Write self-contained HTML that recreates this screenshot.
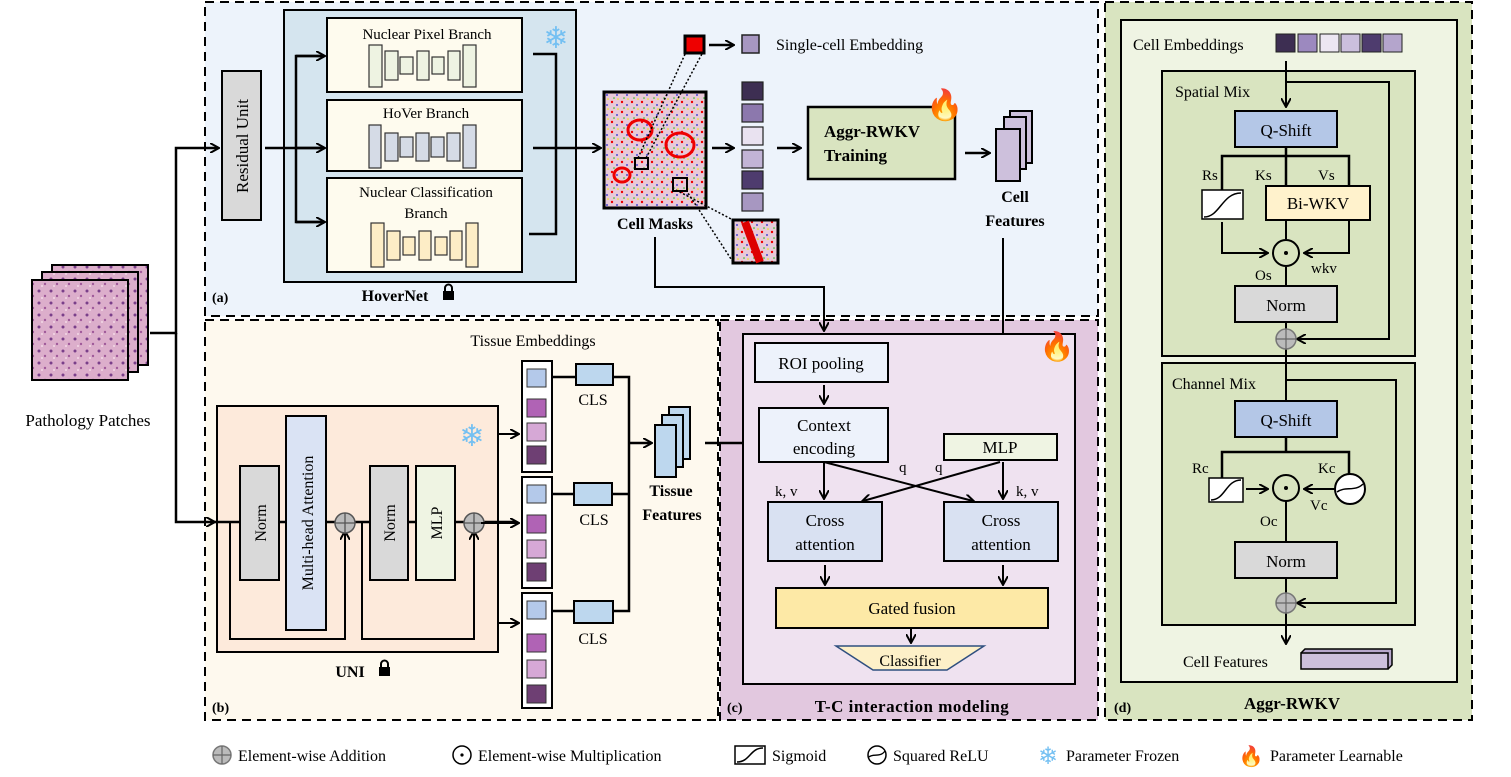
<!DOCTYPE html>
<html><head><meta charset="utf-8"><style>
body{margin:0;background:#fff;}
svg{display:block;font-family:"Liberation Serif",serif;}
</style></head><body>
<svg width="1511" height="777" viewBox="0 0 1511 777" xmlns="http://www.w3.org/2000/svg">
<defs>
<marker id="ar" markerWidth="10" markerHeight="10" refX="8" refY="5" orient="auto" markerUnits="userSpaceOnUse"><path d="M0,0 L9,5 L0,10" fill="none" stroke="#000" stroke-width="2"/></marker>
<pattern id="tis" width="12" height="12" patternUnits="userSpaceOnUse"><rect width="12" height="12" fill="#dcaecb"/><circle cx="3" cy="3" r="1.5" fill="#7a3f8a"/><circle cx="9" cy="8" r="1.2" fill="#a05a9a"/><circle cx="6" cy="10" r="1" fill="#f3d8e6"/></pattern>
<pattern id="msk" width="10" height="10" patternUnits="userSpaceOnUse"><rect width="10" height="10" fill="#e8c9d8"/><circle cx="2" cy="2" r="1.2" fill="#e00"/><circle cx="7" cy="5" r="0.9" fill="#22c"/><circle cx="4" cy="8" r="0.8" fill="#2b2"/><circle cx="8" cy="9" r="0.8" fill="#ee0"/></pattern>
</defs>

<rect x="205" y="2" width="893" height="314" fill="#edf3fb" stroke="#000" stroke-width="2" stroke-dasharray="9,6"/>
<rect x="205" y="320" width="513" height="400" fill="#fef9ee" stroke="#000" stroke-width="2" stroke-dasharray="9,6"/>
<rect x="720" y="320" width="378" height="400" fill="#e2c8df" stroke="#000" stroke-width="2" stroke-dasharray="9,6"/>
<rect x="1105" y="2" width="367" height="718" fill="#d9e4c0" stroke="#000" stroke-width="2" stroke-dasharray="9,6"/>

<rect x="52" y="265" width="96" height="100" fill="url(#tis)" stroke="#000" stroke-width="2"/>
<rect x="42" y="272" width="96" height="100" fill="url(#tis)" stroke="#000" stroke-width="2"/>
<rect x="32" y="280" width="96" height="100" fill="url(#tis)" stroke="#000" stroke-width="2"/>
<text x="88" y="426" font-size="17" text-anchor="middle">Pathology Patches</text>
<path d="M150,333 H176 V148 H218" fill="none" stroke="#000" stroke-width="2.5" marker-end="url(#ar)"/>
<path d="M176,333 V522 H214" fill="none" stroke="#000" stroke-width="2.5" marker-end="url(#ar)"/>

<rect x="222" y="71" width="39" height="149" fill="#d9d9d9" stroke="#000" stroke-width="2"/>
<text transform="translate(248,146) rotate(-90)" font-size="17" text-anchor="middle">Residual Unit</text>
<rect x="284" y="10" width="292" height="272" fill="#d5e5ef" stroke="#000" stroke-width="2"/>
<path d="M265,148 H322 M296,148 V56 H322 M296,148 V222 H322" fill="none" stroke="#000" stroke-width="2.5"/>
<path d="M296,56 H324" stroke="#000" stroke-width="2.5" marker-end="url(#ar)"/>
<path d="M296,148 H324" stroke="#000" stroke-width="2.5" marker-end="url(#ar)"/>
<path d="M296,222 H324" stroke="#000" stroke-width="2.5" marker-end="url(#ar)"/>
<rect x="327" y="18" width="195" height="74" fill="#fefbee" stroke="#000" stroke-width="2"/>
<rect x="327" y="100" width="195" height="71" fill="#fefbee" stroke="#000" stroke-width="2"/>
<rect x="327" y="178" width="195" height="94" fill="#fefbee" stroke="#000" stroke-width="2"/>
<text x="427" y="39" font-size="15" text-anchor="middle">Nuclear Pixel Branch</text>
<text x="426" y="118" font-size="15" text-anchor="middle">HoVer Branch</text>
<text x="426" y="197" font-size="15" text-anchor="middle">Nuclear Classification</text>
<text x="426" y="218" font-size="15" text-anchor="middle">Branch</text>
<g stroke="#333" stroke-width="1.2" fill="#eef3e2">
<rect x="369" y="45" width="13" height="42"/><rect x="385" y="51" width="13" height="29"/><rect x="400" y="57" width="13" height="17"/><rect x="417" y="51" width="12" height="29"/><rect x="432" y="57" width="12" height="17"/><rect x="448" y="51" width="12" height="29"/><rect x="463" y="45" width="13" height="42"/>
</g>
<g stroke="#333" stroke-width="1.2" fill="#d5dbe6">
<rect x="369" y="125" width="12" height="43"/><rect x="385" y="133" width="13" height="28"/><rect x="400" y="137" width="13" height="20"/><rect x="416" y="133" width="13" height="28"/><rect x="431" y="137" width="13" height="20"/><rect x="447" y="133" width="13" height="28"/><rect x="463" y="125" width="13" height="43"/>
</g>
<g stroke="#333" stroke-width="1.2" fill="#fdedc6">
<rect x="371" y="223" width="13" height="44"/><rect x="387" y="231" width="13" height="29"/><rect x="403" y="237" width="12" height="18"/><rect x="419" y="231" width="12" height="29"/><rect x="435" y="237" width="12" height="18"/><rect x="450" y="231" width="12" height="29"/><rect x="466" y="223" width="12" height="44"/>
</g>
<path d="M533,54 H556 V234 H529 M533,148 H556" fill="none" stroke="#000" stroke-width="2.5"/>
<path d="M556,148 H600" stroke="#000" stroke-width="2.5" marker-end="url(#ar)"/>
<text x="556" y="48" font-size="30" fill="#74c0f2" text-anchor="middle">❄</text>
<text x="395" y="301" font-size="16" font-weight="bold" text-anchor="middle">HoverNet</text>
<rect x="443" y="291" width="11" height="9" fill="#000"/><path d="M445,291 v-3 a3.5,3.5 0 0 1 7,0 v3" fill="none" stroke="#000" stroke-width="2"/>
<text x="212" y="302" font-size="14" font-weight="bold">(a)</text>

<rect x="604" y="92" width="102" height="116" fill="url(#msk)" stroke="#000" stroke-width="3"/>
<ellipse cx="640" cy="130" rx="12" ry="10" fill="none" stroke="#e00" stroke-width="3"/>
<ellipse cx="680" cy="145" rx="14" ry="12" fill="none" stroke="#e00" stroke-width="3"/>
<ellipse cx="622" cy="175" rx="8" ry="7" fill="none" stroke="#e00" stroke-width="3"/>
<rect x="635" y="158" width="13" height="11" fill="none" stroke="#000" stroke-width="2"/>
<rect x="673" y="178" width="14" height="13" fill="none" stroke="#000" stroke-width="2"/>
<text x="655" y="229" font-size="16" font-weight="bold" text-anchor="middle">Cell Masks</text>
<path d="M638,158 L686,52 M646,158 L703,52 M676,190 L733,220 M686,190 L733,262" stroke="#000" stroke-width="1.5" stroke-dasharray="2,2"/>
<rect x="685" y="36" width="19" height="17" fill="#e00" stroke="#000" stroke-width="3"/>
<path d="M709,45 H733" stroke="#000" stroke-width="2.5" marker-end="url(#ar)"/>
<rect x="742" y="35" width="17" height="18" fill="#a797c1" stroke="#222" stroke-width="1.5"/>
<text x="776" y="50" font-size="16">Single-cell Embedding</text>
<rect x="733" y="220" width="45" height="43" fill="url(#msk)" stroke="#000" stroke-width="3"/>
<path d="M745,222 L760,262" stroke="#d00" stroke-width="8"/>
<path d="M655,237 V287 H824 V330" fill="none" stroke="#000" stroke-width="2" marker-end="url(#ar)"/>
<g stroke="#222" stroke-width="1.2">
<rect x="742" y="82" width="21" height="18" fill="#3d2e52"/>
<rect x="742" y="104" width="21" height="18" fill="#8c78ad"/>
<rect x="742" y="127" width="21" height="18" fill="#e9e2f0"/>
<rect x="742" y="150" width="21" height="18" fill="#c2b4d6"/>
<rect x="742" y="171" width="21" height="18" fill="#4e3c6e"/>
<rect x="742" y="193" width="21" height="18" fill="#a797c1"/>
</g>
<path d="M712,148 H733" stroke="#000" stroke-width="2.5" marker-end="url(#ar)"/>
<path d="M777,148 H800" stroke="#000" stroke-width="2.5" marker-end="url(#ar)"/>
<rect x="808" y="107" width="147" height="72" fill="#d9e4c0" stroke="#000" stroke-width="2.5"/>
<text x="824" y="137" font-size="17" font-weight="bold">Aggr-RWKV</text>
<text x="824" y="161" font-size="17" font-weight="bold">Training</text>
<text x="945" y="115" font-size="30" text-anchor="middle">🔥</text>
<path d="M965,153 H989" stroke="#000" stroke-width="2.5" marker-end="url(#ar)"/>
<rect x="1010" y="111" width="22" height="52" fill="#cdc0dc" stroke="#000" stroke-width="2"/>
<rect x="1004" y="117" width="22" height="52" fill="#cdc0dc" stroke="#000" stroke-width="2"/>
<rect x="996" y="129" width="24" height="52" fill="#cdc0dc" stroke="#000" stroke-width="2"/>
<text x="1015" y="202" font-size="16" font-weight="bold" text-anchor="middle">Cell</text>
<text x="1015" y="226" font-size="16" font-weight="bold" text-anchor="middle">Features</text>
<path d="M1003,238 V430" stroke="#000" stroke-width="2" marker-end="url(#ar)"/>

<text x="533" y="346" font-size="16" text-anchor="middle">Tissue Embeddings</text>
<rect x="217" y="406" width="281" height="246" fill="#fdeadb" stroke="#000" stroke-width="2"/>
<path d="M210,522 H240 M279,522 H286 M326,522 H337 M353,522 H370 M408,522 H416 M455,522 H465 M481,522 H515" stroke="#000" stroke-width="2.5" fill="none"/>
<path d="M230,522 V639 H345 V532" fill="none" stroke="#000" stroke-width="2" marker-end="url(#ar)"/>
<path d="M362,522 V639 H474 V532" fill="none" stroke="#000" stroke-width="2" marker-end="url(#ar)"/>
<rect x="240" y="466" width="39" height="114" fill="#d9d9d9" stroke="#000" stroke-width="2"/>
<text transform="translate(266,523) rotate(-90)" font-size="16" text-anchor="middle">Norm</text>
<rect x="286" y="416" width="40" height="214" fill="#dae3f4" stroke="#000" stroke-width="2"/>
<text transform="translate(313,523) rotate(-90)" font-size="16" text-anchor="middle">Multi-head Attention</text>
<rect x="370" y="466" width="38" height="114" fill="#d9d9d9" stroke="#000" stroke-width="2"/>
<text transform="translate(395,523) rotate(-90)" font-size="16" text-anchor="middle">Norm</text>
<rect x="416" y="466" width="39" height="114" fill="#eff4e3" stroke="#000" stroke-width="2"/>
<text transform="translate(442,523) rotate(-90)" font-size="16" text-anchor="middle">MLP</text>
<g fill="#bbb" stroke="#555" stroke-width="1.5"><circle cx="345" cy="523" r="10"/><circle cx="474" cy="523" r="10"/></g>
<path d="M335,523 H355 M345,513 V533 M464,523 H484 M474,513 V533" stroke="#555" stroke-width="1.3"/>
<text x="472" y="446" font-size="30" fill="#74c0f2" text-anchor="middle">❄</text>
<text x="350" y="677" font-size="16" font-weight="bold" text-anchor="middle">UNI</text>
<rect x="379" y="667" width="11" height="9" fill="#000"/><path d="M381,667 v-3 a3.5,3.5 0 0 1 7,0 v3" fill="none" stroke="#000" stroke-width="2"/>
<path d="M498,434 H518" stroke="#000" stroke-width="2" marker-end="url(#ar)"/>
<path d="M498,623 H518" stroke="#000" stroke-width="2" marker-end="url(#ar)"/>
<path d="M481,523 H518" stroke="#000" stroke-width="2" marker-end="url(#ar)"/>
<g stroke="#000" stroke-width="2" fill="#fff">
<rect x="522" y="361" width="30" height="111"/><rect x="522" y="477" width="30" height="111"/><rect x="522" y="593" width="30" height="115"/>
</g>
<g stroke="#333" stroke-width="1">
<rect x="527" y="369" width="19" height="18" fill="#b4c9ea"/><rect x="527" y="399" width="19" height="18" fill="#b063b5"/><rect x="527" y="423" width="19" height="18" fill="#d6a8d6"/><rect x="527" y="446" width="19" height="18" fill="#6e3f73"/>
<rect x="527" y="485" width="19" height="18" fill="#b4c9ea"/><rect x="527" y="515" width="19" height="18" fill="#b063b5"/><rect x="527" y="540" width="19" height="18" fill="#d6a8d6"/><rect x="527" y="563" width="19" height="18" fill="#6e3f73"/>
<rect x="527" y="601" width="19" height="18" fill="#b4c9ea"/><rect x="527" y="634" width="19" height="18" fill="#b063b5"/><rect x="527" y="660" width="19" height="18" fill="#d6a8d6"/><rect x="527" y="685" width="19" height="18" fill="#6e3f73"/>
</g>
<path d="M552,377 H576 M613,377 H629 V611 H613 M552,494 H574 M612,494 H629 M552,611 H574" fill="none" stroke="#000" stroke-width="2.5"/>
<path d="M629,443 H651" stroke="#000" stroke-width="2.5" marker-end="url(#ar)"/>
<g fill="#bdd7ee" stroke="#000" stroke-width="2">
<rect x="576" y="364" width="37" height="21"/><rect x="574" y="483" width="38" height="22"/><rect x="574" y="601" width="39" height="22"/>
</g>
<text x="593" y="405" font-size="16" text-anchor="middle">CLS</text>
<text x="594" y="525" font-size="16" text-anchor="middle">CLS</text>
<text x="593" y="644" font-size="16" text-anchor="middle">CLS</text>
<g fill="#bdd7ee" stroke="#000" stroke-width="2">
<rect x="669" y="407" width="21" height="52"/><rect x="662" y="415" width="21" height="52"/><rect x="655" y="425" width="21" height="52"/>
</g>
<text x="671" y="496" font-size="16" font-weight="bold" text-anchor="middle">Tissue</text>
<text x="672" y="520" font-size="16" font-weight="bold" text-anchor="middle">Features</text>
<text x="212" y="712" font-size="14" font-weight="bold">(b)</text>
<path d="M705,443 H756" stroke="#000" stroke-width="2.5" marker-end="url(#ar)"/>

<rect x="743" y="334" width="332" height="350" fill="#efe2f0" stroke="#000" stroke-width="2"/>
<text x="1057" y="356" font-size="28" text-anchor="middle">🔥</text>
<rect x="755" y="343" width="133" height="39" fill="#edf2fb" stroke="#000" stroke-width="2"/>
<text x="821" y="369" font-size="17" text-anchor="middle">ROI pooling</text>
<path d="M824,385 V403" stroke="#000" stroke-width="2" marker-end="url(#ar)"/>
<rect x="759" y="408" width="129" height="54" fill="#edf2fb" stroke="#000" stroke-width="2"/>
<text x="824" y="431" font-size="17" text-anchor="middle">Context</text>
<text x="824" y="454" font-size="17" text-anchor="middle">encoding</text>
<rect x="944" y="434" width="113" height="26" fill="#eff4e3" stroke="#000" stroke-width="2"/>
<text x="1000" y="453" font-size="17" text-anchor="middle">MLP</text>
<path d="M824,462 V498" stroke="#000" stroke-width="2" marker-end="url(#ar)"/>
<path d="M1003,462 V498" stroke="#000" stroke-width="2" marker-end="url(#ar)"/>
<path d="M824,462 L973,501" stroke="#000" stroke-width="2" marker-end="url(#ar)"/>
<path d="M1000,462 L863,501" stroke="#000" stroke-width="2" marker-end="url(#ar)"/>
<text x="899" y="472" font-size="15">q</text><text x="935" y="472" font-size="15">q</text>
<text x="775" y="496" font-size="15">k, v</text><text x="1016" y="496" font-size="15">k, v</text>
<rect x="768" y="502" width="114" height="59" fill="#d9e1f2" stroke="#000" stroke-width="2"/>
<rect x="944" y="502" width="114" height="59" fill="#d9e1f2" stroke="#000" stroke-width="2"/>
<text x="825" y="526" font-size="17" text-anchor="middle">Cross</text>
<text x="825" y="550" font-size="17" text-anchor="middle">attention</text>
<text x="1001" y="526" font-size="17" text-anchor="middle">Cross</text>
<text x="1001" y="550" font-size="17" text-anchor="middle">attention</text>
<path d="M825,565 V584" stroke="#000" stroke-width="2" marker-end="url(#ar)"/>
<path d="M1003,565 V584" stroke="#000" stroke-width="2" marker-end="url(#ar)"/>
<rect x="776" y="588" width="272" height="40" fill="#fde9a6" stroke="#000" stroke-width="2"/>
<text x="912" y="614" font-size="17" text-anchor="middle">Gated fusion</text>
<path d="M911,628 V642" stroke="#000" stroke-width="2" marker-end="url(#ar)"/>
<path d="M836,646 H984 L947,670 H873 Z" fill="#fdf0c8" stroke="#2f4f7f" stroke-width="1.5"/>
<text x="910" y="666" font-size="16" text-anchor="middle">Classifier</text>
<text x="727" y="712" font-size="14" font-weight="bold">(c)</text>
<text x="912" y="712" font-size="17" font-weight="bold" text-anchor="middle" letter-spacing="0.5">T-C interaction modeling</text>

<rect x="1121" y="20" width="336" height="662" fill="#eff4e3" stroke="#000" stroke-width="2"/>
<text x="1133" y="50" font-size="16">Cell Embeddings</text>
<g stroke="#222" stroke-width="1">
<rect x="1276" y="34" width="19" height="18" fill="#3d2e52"/><rect x="1298" y="34" width="19" height="18" fill="#9c89bf"/><rect x="1320" y="34" width="19" height="18" fill="#ece6f2"/><rect x="1341" y="34" width="19" height="18" fill="#cbbfdd"/><rect x="1362" y="34" width="19" height="18" fill="#4e3c6e"/><rect x="1383" y="34" width="19" height="18" fill="#b4a5cc"/>
</g>
<rect x="1162" y="71" width="253" height="285" fill="#d9e4c0" stroke="#000" stroke-width="2"/>
<text x="1175" y="97" font-size="16">Spatial Mix</text>
<path d="M1286,61 V106" stroke="#000" stroke-width="2" marker-end="url(#ar)"/>
<path d="M1286,82 H1389 V339 H1298" fill="none" stroke="#000" stroke-width="2" marker-end="url(#ar)"/>
<rect x="1235" y="111" width="102" height="36" fill="#b4c7e7" stroke="#000" stroke-width="2"/>
<text x="1286" y="136" font-size="17" text-anchor="middle">Q-Shift</text>
<path d="M1286,147 V186 M1222,190 V156 H1349 V186" fill="none" stroke="#000" stroke-width="2.5"/>
<text x="1202" y="180" font-size="15">Rs</text><text x="1255" y="180" font-size="15">Ks</text><text x="1318" y="180" font-size="15">Vs</text>
<rect x="1202" y="190" width="41" height="29" fill="#fff" stroke="#000" stroke-width="1.5"/>
<path d="M1204,217 C1220,217 1222,193 1241,193" fill="none" stroke="#000" stroke-width="1.5"/>
<rect x="1266" y="186" width="104" height="34" fill="#fff2cc" stroke="#000" stroke-width="2"/>
<text x="1318" y="209" font-size="17" text-anchor="middle">Bi-WKV</text>
<path d="M1222,222 V253 H1267" fill="none" stroke="#000" stroke-width="2" marker-end="url(#ar)"/>
<path d="M1349,220 V253 H1305" fill="none" stroke="#000" stroke-width="2" marker-end="url(#ar)"/>
<path d="M1286,220 V239 M1286,267 V286" stroke="#000" stroke-width="2"/>
<circle cx="1286" cy="253" r="13" fill="none" stroke="#000" stroke-width="2"/><circle cx="1286" cy="253" r="2" fill="#000"/>
<text x="1255" y="280" font-size="15">Os</text><text x="1311" y="273" font-size="15">wkv</text>
<rect x="1235" y="286" width="102" height="36" fill="#d9d9d9" stroke="#000" stroke-width="2"/>
<text x="1286" y="311" font-size="17" text-anchor="middle">Norm</text>
<path d="M1286,322 V397" stroke="#000" stroke-width="2"/>
<circle cx="1286" cy="339" r="10" fill="#bbb" stroke="#777" stroke-width="1.5"/><path d="M1276,339 H1296 M1286,329 V349" stroke="#666" stroke-width="1.2"/>
<rect x="1162" y="363" width="253" height="262" fill="#d9e4c0" stroke="#000" stroke-width="2"/>
<text x="1172" y="389" font-size="16">Channel Mix</text>
<path d="M1286,363 V401" stroke="#000" stroke-width="2"/>
<path d="M1286,380 H1396 V603 H1298" fill="none" stroke="#000" stroke-width="2" marker-end="url(#ar)"/>
<rect x="1235" y="401" width="102" height="36" fill="#b4c7e7" stroke="#000" stroke-width="2"/>
<text x="1286" y="426" font-size="17" text-anchor="middle">Q-Shift</text>
<path d="M1286,437 V452 M1222,478 V452 H1349 V475" fill="none" stroke="#000" stroke-width="2.5"/>
<text x="1192" y="473" font-size="15">Rc</text><text x="1318" y="473" font-size="15">Kc</text>
<rect x="1209" y="478" width="34" height="24" fill="#fff" stroke="#000" stroke-width="1.5"/>
<path d="M1211,500 C1225,500 1226,480 1241,480" fill="none" stroke="#000" stroke-width="1.5"/>
<path d="M1246,489 H1267" stroke="#000" stroke-width="2" marker-end="url(#ar)"/>
<path d="M1335,489 H1305" stroke="#000" stroke-width="2" marker-end="url(#ar)"/>
<circle cx="1286" cy="488" r="13" fill="none" stroke="#000" stroke-width="2"/><circle cx="1286" cy="488" r="2" fill="#000"/>
<circle cx="1350" cy="489" r="15" fill="#fff" stroke="#000" stroke-width="2"/><path d="M1337,492 C1345,486 1355,492 1363,484" fill="none" stroke="#000" stroke-width="1.5"/>
<text x="1310" y="510" font-size="15">Vc</text><text x="1260" y="526" font-size="15">Oc</text>
<path d="M1286,501 V542" stroke="#000" stroke-width="2"/>
<rect x="1235" y="542" width="102" height="36" fill="#d9d9d9" stroke="#000" stroke-width="2"/>
<text x="1286" y="567" font-size="17" text-anchor="middle">Norm</text>
<path d="M1286,578 V643" stroke="#000" stroke-width="2" marker-end="url(#ar)"/>
<circle cx="1286" cy="603" r="10" fill="#bbb" stroke="#777" stroke-width="1.5"/><path d="M1276,603 H1296 M1286,593 V613" stroke="#666" stroke-width="1.2"/>
<text x="1183" y="667" font-size="16">Cell Features</text>
<path d="M1301,653 L1305,649 H1392 V665 L1388,669" fill="#b8a8cc" stroke="#000" stroke-width="1.5"/>
<rect x="1301" y="653" width="87" height="16" fill="#cdc0dc" stroke="#000" stroke-width="1.5"/>
<text x="1114" y="712" font-size="14" font-weight="bold">(d)</text>
<text x="1292" y="709" font-size="17" font-weight="bold" text-anchor="middle">Aggr-RWKV</text>

<circle cx="222" cy="755" r="9" fill="#bbb" stroke="#777" stroke-width="1.5"/><path d="M213,755 H231 M222,746 V764" stroke="#666" stroke-width="1.2"/>
<text x="238" y="761" font-size="16">Element-wise Addition</text>
<circle cx="462" cy="755" r="9" fill="none" stroke="#000" stroke-width="1.5"/><circle cx="462" cy="755" r="1.6" fill="#000"/>
<text x="478" y="761" font-size="16">Element-wise Multiplication</text>
<rect x="735" y="746" width="30" height="18" fill="#fff" stroke="#000" stroke-width="1.5"/><path d="M737,762 C750,762 750,748 763,748" fill="none" stroke="#000" stroke-width="1.5"/>
<text x="772" y="761" font-size="16">Sigmoid</text>
<circle cx="877" cy="755" r="9" fill="#fff" stroke="#000" stroke-width="1.5"/><path d="M869,757 C873,753 880,758 885,751" fill="none" stroke="#000" stroke-width="1.3"/>
<text x="893" y="761" font-size="16">Squared ReLU</text>
<text x="1048" y="764" font-size="24" fill="#74c0f2" text-anchor="middle">❄</text>
<text x="1066" y="761" font-size="16">Parameter Frozen</text>
<text x="1251" y="763" font-size="20" text-anchor="middle">🔥</text>
<text x="1270" y="761" font-size="16">Parameter Learnable</text>
</svg>
</body></html>
